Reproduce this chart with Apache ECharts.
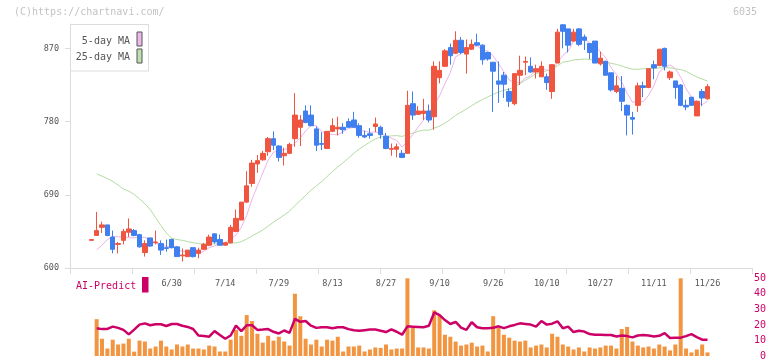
<!DOCTYPE html>
<html><head><meta charset="utf-8">
<script src="https://cdn.jsdelivr.net/npm/echarts@6/dist/echarts.min.js"></script>
<style>html,body{margin:0;padding:0;background:#fff}#c{width:772px;height:361px}</style>
</head><body><div id="c"></div>
<script>
const dates = ['6/9','6/10','6/11','6/12','6/13','6/16','6/17','6/18','6/19','6/20','6/23','6/24','6/25','6/26','6/27','6/30','7/1','7/2','7/3','7/4','7/7','7/8','7/9','7/10','7/11','7/14','7/15','7/16','7/17','7/18','7/22','7/23','7/24','7/25','7/28','7/29','7/30','7/31','8/1','8/4','8/5','8/6','8/7','8/8','8/12','8/13','8/14','8/15','8/18','8/19','8/20','8/21','8/22','8/25','8/26','8/27','8/28','8/29','9/1','9/2','9/3','9/4','9/5','9/8','9/9','9/10','9/11','9/12','9/16','9/17','9/18','9/19','9/22','9/24','9/25','9/26','9/29','9/30','10/1','10/2','10/3','10/6','10/7','10/8','10/9','10/10','10/14','10/15','10/16','10/17','10/20','10/21','10/22','10/23','10/24','10/27','10/28','10/29','10/30','10/31','11/4','11/5','11/6','11/7','11/10','11/11','11/12','11/13','11/14','11/17','11/18','11/19','11/20','11/21','11/25','11/26'];
const labelDates = ['6/30','7/14','7/29','8/13','8/27','9/10','9/26','10/10','10/27','11/11','11/26'];
const opens = [634,640,650,653,638,629,634,644,646,641,619,637,631,630,625,635,626,615,614,625,618,623,628,642,635,628,631,645,659,681,704,728,733,743,759,750,738,741,759,773,793,788,771,753,747,768,771,773,780,782,775,763,765,774,773,762,746,746,741,741,802,789,790,793,786,834,848,871,864,880,863,869,877,874,865,853,830,837,817,802,837,853,848,841,835,835,817,852,899,894,879,894,884,876,879,851,854,840,817,821,800,785,800,824,822,850,849,870,834,830,825,800,810,787,817,808];
const closes = [635,646,653,640,623,630,645,648,640,626,630,627,632,622,624,625,614,616,622,614,622,629,638,632,628,631,650,661,681,701,729,732,741,759,751,736,741,752,788,782,779,775,751,752,768,775,773,770,773,773,763,761,763,777,764,747,747,749,736,800,788,793,793,782,848,843,867,861,880,865,871,875,874,856,857,842,826,826,805,839,843,854,841,845,848,828,850,890,891,874,890,875,880,865,852,858,837,819,824,805,788,783,824,822,845,846,869,848,841,822,800,798,800,805,809,823];
const lows = [634,640,643,639,618,618,629,638,639,625,614,626,629,616,620,624,614,608,614,613,612,622,627,630,628,628,630,644,659,680,700,717,732,738,745,731,726,740,749,750,778,774,744,745,747,767,763,765,773,773,760,760,759,767,759,746,738,736,735,741,782,788,782,779,770,827,847,850,863,863,839,868,873,850,855,792,803,809,798,800,825,837,840,833,835,819,808,852,870,865,878,873,868,857,852,849,837,817,815,793,763,764,792,810,821,832,848,843,831,808,799,794,800,787,799,807];
const highs = [635,669,657,653,646,632,648,661,648,642,634,637,646,634,635,636,627,624,622,625,625,631,641,642,641,632,653,672,681,719,733,739,744,761,768,751,748,754,815,788,800,800,774,767,768,784,786,778,784,792,778,769,772,785,775,766,753,753,745,818,817,799,808,801,854,854,869,876,891,884,881,881,888,875,866,853,854,841,821,839,861,860,859,850,854,839,850,894,900,894,894,895,887,876,879,866,855,840,836,836,801,792,828,829,845,855,869,871,843,830,826,807,810,806,820,826];
const ma5 = ['-',622.5,628,635,638.8,638.4,638.2,637.2,637.2,637.8,637.8,634.2,631,627.4,627,626,623.4,620.2,620.2,618.2,617.6,620.6,625,627,629.8,631.6,635.8,640.4,650.2,664.8,684.4,700.8,716.8,732.4,742.4,743.8,745.6,747.8,753.6,759.8,768.4,775.2,775,767.8,765,764.2,763.8,767.6,771.8,772.8,770.4,768,766.6,767.4,765.6,762.4,759.6,756.8,748.6,755.8,764,773.2,782,791.2,800.8,811.8,826.6,840.2,859.8,863.2,868.8,870.4,873,868.2,866.6,860.8,851,841.4,831.2,827.6,827.8,833.4,836.4,844.4,846.2,843.2,842.4,852.2,861.4,866.6,879,884,882,876.8,872.4,866,858.4,846.2,838,828.6,814.6,803.8,804.8,804.4,812.4,824,841.2,846,849.8,845.2,834.4,820.2,810.6,803.4,800.8,805.4];
const ma25 = ['-',715.7,712.9,710,706.5,702,697,694.5,690.5,685,679,672,662,652,643,636.5,635,634,632.5,631,630,629.6,629.5,629.5,629.8,630.3,630.4,630.8,632.4,635.5,639.5,643,646.7,651.4,656.4,660.7,665.2,670,676.7,683,689.2,695.6,701,706.2,712.4,718.5,724.2,729.5,735.2,741,746.2,750.7,754.8,758.6,761.1,761.8,762.4,762.8,761.8,763.8,765.9,768,769.6,769.4,772,774.6,778.2,782.6,787.8,791.6,795.5,799.6,803.7,807,810.4,813.6,816.2,818.7,819.8,822.8,826.6,830.9,834.6,839,840.9,842.5,844.8,848.6,853,854,855.9,856.2,857,856.4,855.9,855.4,853.8,851.6,850.4,848.3,846.1,844.4,844.3,845,845.2,845.4,846,846.2,846.1,845,843.9,841.8,838.2,834.8,832.4,829.7];
const volume = ['-',23.7,11.1,4.8,10.5,7.4,8,11.1,2.8,9.9,9.3,4.8,6.1,9.9,6.1,4.2,7.4,6.1,7.4,4.8,4.8,4.2,6.7,6.1,2.9,2.9,10.5,16.8,13,26.3,22.5,14.3,8.6,13,9.9,12.4,9.3,6.7,40.1,25.6,11.1,7.4,10.5,6.1,10.5,9.9,12.4,2.9,6.1,6.1,6.7,2.9,4.2,5.5,5.2,7.4,4.2,4.8,4.8,50,18.1,5.5,5.5,4.8,29.4,26.3,13.7,12.4,9.3,6.7,7.4,8.6,6.1,6.7,2.9,25.6,18.1,13.7,11.8,9.9,9.3,9.9,5.5,6.7,7.4,5.5,14.3,12.4,7.4,6.1,4.2,5.5,2.9,5.5,4.8,5.5,6.7,6.7,4.8,17.4,18.7,9.3,6.7,5.5,6.1,4.8,7.4,6.1,3.6,7.4,50,4.8,2.3,4.2,7.4,2.3];
const aiPredict = ['-',17.9,17.3,17.4,18.9,18.1,16.8,13.9,17,20.2,21,19.8,20.4,20.4,19.3,20.6,20.6,19.5,18.7,17.4,13.2,12.8,12.4,16,13.5,11.1,13.2,19.5,16,19.8,19.8,16.8,17,17.3,15.6,14.5,16.4,14.9,23.9,22,22.5,19.5,18.1,18.5,18.5,17.9,18.5,18.5,17.3,16.6,16.2,16.6,17,17,16.2,15.4,17.2,15.6,13.7,19.1,18.9,18.7,18.5,19.5,28,26.3,23.1,20.6,21.9,18.3,16.8,21.7,18.5,17.9,17.9,18.1,19.1,17.9,19.1,20,21,20.6,20.2,18.9,22.5,20.2,20.8,22.3,17.9,18.9,15.4,16.2,15.7,14.1,13.7,13.7,13.5,13.5,12.6,13.2,12.8,12,13.2,13.5,13.2,12.6,13,14.7,11.6,11.8,11.8,12.8,14.1,12.2,10.5,10.5];
const priceTicks = [600, 690, 780, 870];
const volumeTicks = [0, 10, 20, 30, 40, 50];

const UP = '#F0553F', DOWN = '#3F7FEF', MONO = '"DejaVu Sans Mono", "Liberation Mono", monospace';
const candles = dates.map((d, i) => [opens[i], closes[i], lows[i], highs[i]]);
const chart = echarts.init(document.getElementById('c'), null, {renderer: 'canvas'});
const plotL = 70, plotR = 752, dataL = 91.3, dataR = 707.5;
chart.setOption({
  animation: false,
  backgroundColor: '#fff',
  grid: [
    {left: plotL, top: 24, width: plotR - plotL, height: 244},
    {left: dataL, top: 24, width: dataR - dataL, height: 244},
    {left: dataL, top: 278.3, width: dataR - dataL, height: 79.4}
  ],
  xAxis: [
    {gridIndex: 0, type: 'value', min: 0, max: 11, interval: 1,
     axisLine: {lineStyle: {color: '#dcdcdc', width: 1}},
     axisTick: {length: 6, lineStyle: {color: '#dcdcdc'}},
     axisLabel: {show: false}, splitLine: {show: false}},
    {gridIndex: 1, type: 'category', data: dates, boundaryGap: false,
     axisLine: {show: false}, axisTick: {show: false}, splitLine: {show: false},
     axisLabel: {interval: (idx, val) => labelDates.indexOf(val) >= 0, color: '#555', fontFamily: MONO, fontSize: 8.5, margin: 11}},
    {gridIndex: 2, type: 'category', data: dates, boundaryGap: false, show: false}
  ],
  yAxis: [
    {gridIndex: 0, type: 'value', min: 600, max: 900,
     axisLine: {show: true, lineStyle: {color: '#dcdcdc'}},
     axisTick: {show: true, length: 5, customValues: priceTicks, lineStyle: {color: '#dcdcdc'}},
     axisLabel: {customValues: priceTicks, color: '#555', fontFamily: MONO, fontSize: 8.5, margin: 11},
     splitLine: {show: false}},
    {gridIndex: 1, type: 'value', min: 600, max: 900, show: false},
    {gridIndex: 2, type: 'value', min: 0, max: 50, interval: 10, position: 'right', offset: plotR - dataR,
     axisLine: {show: false}, axisTick: {show: false}, splitLine: {show: false},
     axisLabel: {color: '#CC0066', fontFamily: MONO, fontSize: 10, align: 'right', margin: 14, customValues: volumeTicks}}
  ],
  series: [
    {type: 'line', name: '25-day MA', xAxisIndex: 1, yAxisIndex: 1, data: ma25, symbol: 'none',
     lineStyle: {color: '#B4DCA2', width: 1}, z: 1},
    {type: 'line', name: '5-day MA', xAxisIndex: 1, yAxisIndex: 1, data: ma5, symbol: 'none',
     lineStyle: {color: '#EBB4EB', width: 1}, z: 1},
    {type: 'candlestick', xAxisIndex: 1, yAxisIndex: 1, data: candles, barWidth: 5, z: 2,
     itemStyle: {color: UP, color0: DOWN, borderColor: UP, borderColor0: DOWN, borderColorDoji: UP, borderWidth: 1}},
    {type: 'bar', xAxisIndex: 2, yAxisIndex: 2, data: volume, barWidth: 4,
     itemStyle: {color: '#F29540'}, z: 1},
    {type: 'line', xAxisIndex: 2, yAxisIndex: 2, data: aiPredict, symbol: 'none',
     lineStyle: {color: '#CC0066', width: 2.5}, z: 2}
  ],
  graphic: [
    {type: 'text', x: 14, y: 12, style: {text: '(C)https://chartnavi.com/', fill: '#c4c4c4', font: '10px ' + MONO, verticalAlign: 'middle'}},
    {type: 'text', x: 757, y: 12, style: {text: '6035', fill: '#c4c4c4', font: '10px ' + MONO, align: 'right', verticalAlign: 'middle'}},
    {type: 'rect', shape: {x: 70.5, y: 24.5, width: 78, height: 46.5}, style: {fill: '#fff', stroke: '#dcdcdc', lineWidth: 1}, z: 100},
    {type: 'text', x: 130, y: 41, z: 101, style: {text: '5-day MA', fill: '#555', font: '10px ' + MONO, align: 'right', verticalAlign: 'middle'}},
    {type: 'text', x: 130, y: 57, z: 101, style: {text: '25-day MA', fill: '#555', font: '10px ' + MONO, align: 'right', verticalAlign: 'middle'}},
    {type: 'rect', z: 101, shape: {x: 137, y: 32, width: 5, height: 14}, style: {fill: '#EBB8EB', stroke: '#555', lineWidth: 1}},
    {type: 'rect', z: 101, shape: {x: 137, y: 49, width: 5, height: 14}, style: {fill: '#BEDFB0', stroke: '#555', lineWidth: 1}},
    {type: 'text', x: 76, y: 286, style: {text: 'AI-Predict', fill: '#CC0066', font: '10px ' + MONO, verticalAlign: 'middle'}},
    {type: 'rect', shape: {x: 142, y: 277, width: 6.5, height: 15.5}, style: {fill: '#CC0066'}}
  ]
});
</script>
</body></html>
